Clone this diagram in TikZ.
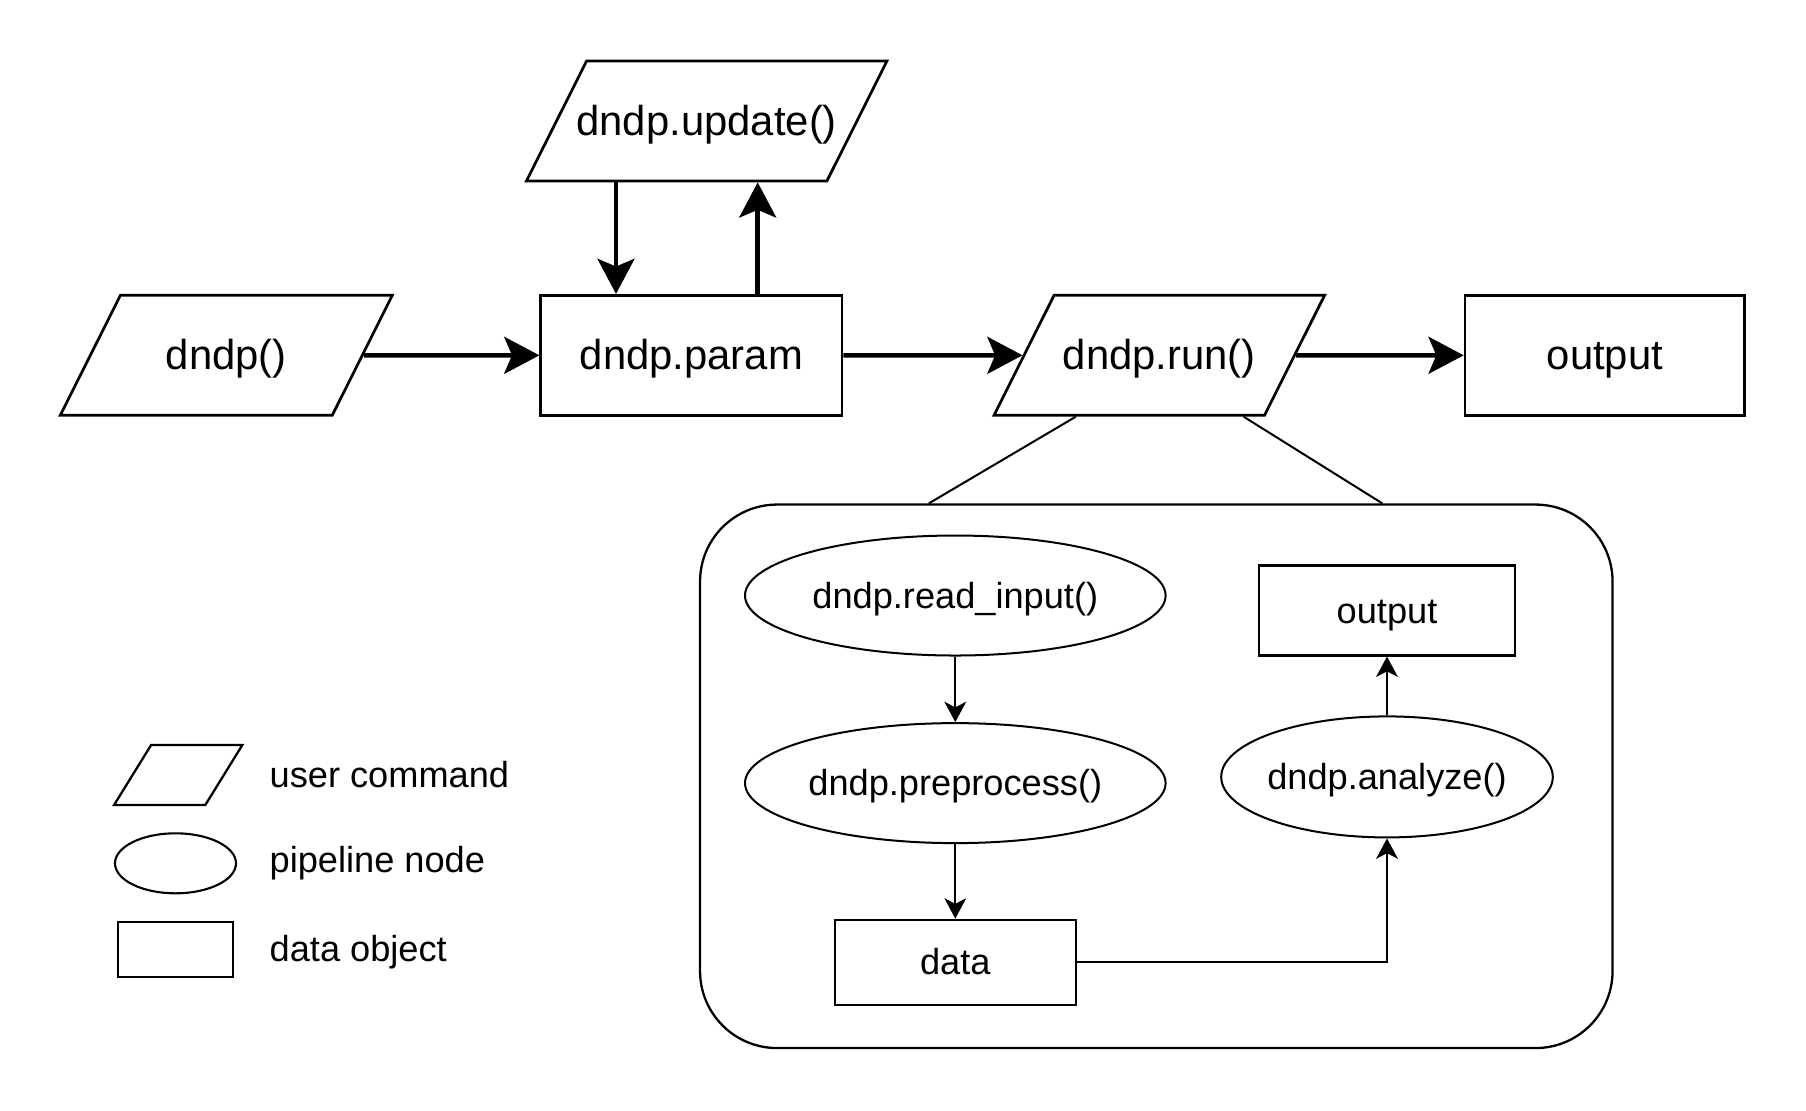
\documentclass[tikz,border=0pt]{standalone}
\usepackage{fontspec}
\setmainfont{Liberation Sans}
\usetikzlibrary{positioning, arrows.meta, shapes.geometric}

\begin{document}
\begin{tikzpicture}[
  font=\fontsize{11.9}{14.3}\selectfont,
  cmd/.style={trapezium, trapezium left angle=63.4, trapezium right angle=116.6,
              trapezium stretches body, draw, line width=0.77pt,
              text height=0.40cm, text depth=0.11cm,
              inner ysep=0.345cm, inner xsep=-0.2cm, minimum width=3.32cm},
  dataobj/.style={rectangle, draw, line width=0.77pt,
                  text height=0.40cm, text depth=0.11cm,
                  minimum width=2.9cm, minimum height=1.2cm, inner sep=2pt},
  pipe/.style={ellipse, draw, line width=0.57pt, minimum width=4.206cm,
               minimum height=1.2cm, inner sep=0pt,
               text height=0.345cm, text depth=0.095cm,
               font=\fontsize{10.3}{12.4}\selectfont},
  smallobj/.style={rectangle, draw, line width=0.62pt, inner sep=2pt,
                   text height=0.345cm, text depth=0.095cm,
                   font=\fontsize{10.3}{12.4}\selectfont},
  frame/.style={rectangle, rounded corners=0.77cm, draw, line width=0.65pt},
  arrow/.style={-{Stealth[length=10pt, width=10.5pt, inset=2.2pt]}, line width=1.28pt},
  thinarrow/.style={-{Stealth[length=5.8pt, width=6.2pt, inset=1.6pt]}, line width=0.57pt},
  link/.style={line width=0.57pt},
  legtext/.style={anchor=base west, inner sep=0pt, font=\fontsize{10.3}{12.4}\selectfont}
]
\useasboundingbox (0,0) rectangle (18.06,-11.10);

% Top row: user commands and data objects.
\node[cmd]                       (dndp)   at (2.263, -3.553)  {dndp()};
\node[dataobj, minimum width=3.013cm] (param) at (6.914, -3.553) {dndp.param};
\node[cmd, minimum width=3.605cm] (update) at (7.067, -1.21)  {dndp.update()};
\node[cmd, minimum width=3.306cm] (run)   at (11.593, -3.553) {dndp.run()};
\node[dataobj, minimum width=2.797cm] (out) at (16.049, -3.553) {output};

\draw[arrow] (dndp)  -- (param);
\draw[arrow] (param) -- (run);
\draw[arrow] (run)   -- (out);

% Loop between dndp.param and dndp.update().
\coordinate (downx) at ([xshift=-0.754cm]param.north);
\coordinate (upx)   at ([xshift=0.663cm]param.north);
\draw[arrow] (downx |- update.south) -- (downx);
\draw[arrow] (upx) -- (upx |- update.south);

% Expanded view of dndp.run().
\node[frame, minimum width=9.125cm, minimum height=5.435cm] (frame) at (11.563, -7.763) {};
\draw[link] ([xshift=-0.835cm]run.south) -- ([xshift=-2.275cm]frame.north);
\draw[link] ([xshift=0.843cm]run.south)  -- ([xshift=2.261cm]frame.north);

\node[pipe]                          (read)   at (9.553, -5.955) {dndp.read\_input()};
\node[pipe, below=0.656cm of read]   (prep)   {dndp.preprocess()};
\node[smallobj, minimum width=2.408cm, minimum height=0.854cm,
      below=0.745cm of prep]         (datan)  {data};
\node[pipe, minimum width=3.316cm, minimum height=1.21cm, inner xsep=-0.03cm]
                                     (ana)    at (13.87, -7.769) {dndp.analyze()};
\node[smallobj, minimum width=2.568cm, minimum height=0.899cm]
                                     (subout) at (13.87, -6.105) {output};

\draw[thinarrow] (read)       -- (prep);
\draw[thinarrow] (prep)       -- (datan);
\draw[thinarrow] (datan.east) -| (ana.south);
\draw[thinarrow] (ana)        -- (subout);

% Legend.
\node[cmd, trapezium left angle=58.3, trapezium right angle=121.7,
      line width=0.65pt, text height=0cm, text depth=0cm,
      inner ysep=0.30cm, inner xsep=0pt, minimum width=1.283cm] (legcmd) at (1.782, -7.75) {};
\node[ellipse, draw, line width=0.6pt, minimum width=1.21cm, minimum height=0.60cm] (legpipe) at (1.755, -8.633) {};
\node[rectangle, draw, line width=0.65pt, minimum width=1.156cm, minimum height=0.556cm] (legobj) at (1.755, -9.495) {};

\node[legtext] (legcmdtxt)  at (2.69, -7.873) {user command};
\node[legtext] (legpipetxt) at (2.69, -8.72)  {pipeline node};
\node[legtext] (legobjtxt)  at (2.69, -9.615) {data object};

\end{tikzpicture}
\end{document}
